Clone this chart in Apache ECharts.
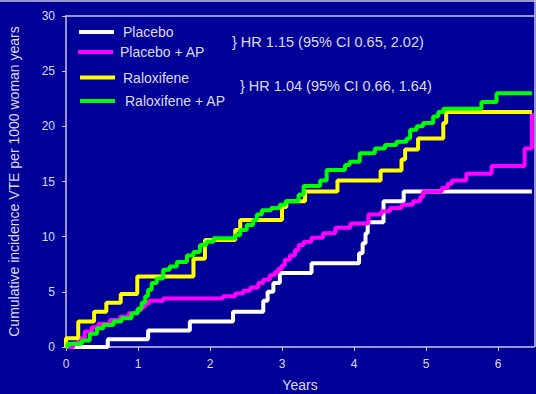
<!DOCTYPE html>
<html>
<head>
<meta charset="utf-8">
<script src="https://cdn.jsdelivr.net/npm/echarts@6/dist/echarts.min.js"></script>
<style>
html,body{margin:0;padding:0;background:#000099;}
#c{width:536px;height:394px;}
</style>
</head>
<body>
<div id="c"></div>
<script>
// ---- data (x = years, y = cumulative incidence per 1000 woman years) ----
const seriesNames = ['Placebo', 'Placebo + AP', 'Raloxifene', 'Raloxifene + AP'];
const xTickValues = [0, 1, 2, 3, 4, 5, 6];
const yTickValues = [0, 5, 10, 15, 20, 25, 30];
const hrTexts = ['HR 1.15 (95% CI 0.65, 2.02)', 'HR 1.04 (95% CI 0.66, 1.64)'];

const placebo = [[0,0],[0.58,0.7],[1.14,1.5],[1.72,2.3],[2.32,3.2],[2.74,4.2],[2.8,5.0],[2.88,5.8],[2.97,6.7],[3.41,7.6],[4.07,8.5],[4.12,9.4],[4.16,10.3],[4.19,11.3],[4.41,13.2],[4.69,14.1],[6.47,14.1]];

const placeboAP = [[0,0],[0.1,0.3],[0.17,0.8],[0.26,1.4],[0.36,1.8],[0.45,2.1],[0.61,2.45],[0.75,2.75],[0.87,3.05],[0.98,3.35],[1.05,3.65],[1.1,3.95],[1.15,4.2],[1.35,4.4],[2.18,4.6],[2.35,4.85],[2.46,5.1],[2.56,5.4],[2.67,5.8],[2.74,6.1],[2.83,6.5],[2.9,6.8],[2.95,7.1],[3.0,7.4],[3.04,7.9],[3.11,8.3],[3.18,8.8],[3.23,9.25],[3.3,9.55],[3.41,9.9],[3.57,10.3],[3.74,10.8],[3.95,11.2],[4.2,12.0],[4.38,12.3],[4.5,12.6],[4.66,12.9],[4.82,13.2],[4.92,13.6],[4.96,14.1],[5.22,14.4],[5.3,14.8],[5.36,15.1],[5.56,15.7],[5.91,16.4],[6.37,18.0],[6.47,21.2]];

const raloxifene = [[0,0],[0,0.8],[0.17,2.3],[0.39,3.2],[0.56,4.0],[0.76,4.8],[0.99,6.4],[1.77,8.0],[1.93,9.7],[2.35,10.6],[2.42,11.5],[3.0,12.7],[3.06,13.2],[3.32,14.1],[3.77,15.1],[4.37,16.0],[4.66,17.0],[4.71,17.9],[4.89,18.9],[5.24,20.3],[5.28,21.3],[6.47,21.3]];

const raloxifeneAP = [[0,0],[0.02,0.3],[0.22,0.6],[0.33,1.2],[0.43,1.7],[0.52,2.0],[0.66,2.3],[0.77,2.6],[0.91,3.05],[1.0,3.5],[1.05,4.0],[1.1,4.6],[1.14,5.2],[1.19,5.8],[1.26,6.2],[1.35,7.0],[1.44,7.3],[1.54,7.7],[1.68,8.3],[1.77,8.6],[1.86,9.25],[1.95,9.55],[2.05,9.85],[2.35,10.15],[2.42,10.6],[2.51,11.05],[2.6,11.5],[2.65,12.0],[2.72,12.4],[2.85,12.6],[2.97,12.9],[3.05,13.2],[3.23,13.8],[3.3,14.6],[3.53,15.1],[3.62,16.05],[3.875,16.5],[3.94,16.8],[4.08,17.55],[4.29,18.0],[4.43,18.3],[4.59,18.6],[4.73,18.9],[4.78,19.7],[4.87,20.0],[4.96,20.3],[5.1,20.9],[5.17,21.3],[5.24,21.6],[5.77,22.2],[5.98,23.0],[6.47,23.0]];

const seriesData = [placebo, placeboAP, raloxifene, raloxifeneAP];
const seriesColors = ['#ffffff', '#ff00ff', '#ffff00', '#00ff00'];

// ---- chart ----
const txt = '#dcdcf4';
const axisCol = '#c8c8e6';
const font = '"Liberation Sans", Arial, sans-serif';
const chart = echarts.init(document.getElementById('c'), null, {renderer: 'svg'});

const legendLeft = [79, 78, 80, 80];
const legendTop = [25, 45, 70.5, 94];
const legendPad = [4, 2, 3, 5];

chart.setOption({
  backgroundColor: '#000099',
  animation: false,
  textStyle: {fontFamily: font},
  grid: {left: 66, right: 2, top: 16, bottom: 47, containLabel: false, outerBoundsMode: 'none'},
  legend: seriesNames.map((n, i) => ({
    data: [n], left: legendLeft[i], top: legendTop[i], padding: 0,
    icon: 'rect', itemWidth: 35, itemHeight: 4,
    textStyle: {color: txt, fontSize: 14, fontFamily: font, padding: [0, 0, 0, legendPad[i]]},
    selectedMode: false
  })),
  xAxis: [{
    type: 'value', min: 0, max: 6.5,
    name: 'Years', nameLocation: 'middle', nameGap: 31,
    nameTextStyle: {color: txt, fontSize: 14, fontFamily: font},
    axisLine: {show: true, lineStyle: {color: axisCol, width: 1.5}},
    axisTick: {show: true, length: 4, lineStyle: {color: axisCol}, customValues: xTickValues},
    axisLabel: {color: txt, fontSize: 12, margin: 11, customValues: xTickValues},
    splitLine: {show: false}
  }, {
    type: 'value', min: 0, max: 6.5, position: 'top',
    axisLine: {show: true, lineStyle: {color: axisCol, width: 1.5}},
    axisTick: {show: false}, axisLabel: {show: false}, splitLine: {show: false}
  }],
  yAxis: {
    type: 'value', min: 0, max: 30, interval: 5,
    name: 'Cumulative incidence VTE per 1000 woman years',
    nameLocation: 'middle', nameGap: 45, nameRotate: 90,
    nameTextStyle: {color: txt, fontSize: 14, fontFamily: font},
    axisLine: {show: true, lineStyle: {color: axisCol, width: 1.5}},
    axisTick: {show: true, length: 4, lineStyle: {color: axisCol}},
    axisLabel: {color: txt, fontSize: 12, margin: 11, customValues: yTickValues},
    splitLine: {show: false}
  },
  graphic: [
    {type: 'text', left: 232, top: 33, style: {
      text: '{b|}} ' + hrTexts[0], fill: txt, font: '14.5px ' + font,
      rich: {b: {fontSize: 17, fill: txt, fontFamily: font}}
    }},
    {type: 'text', left: 240, top: 77, style: {
      text: '{b|}} ' + hrTexts[1], fill: txt, font: '14.5px ' + font,
      rich: {b: {fontSize: 17, fill: txt, fontFamily: font}}
    }},
    {type: 'line', shape: {x1: 0, y1: 1, x2: 536, y2: 1}, style: {stroke: axisCol, lineWidth: 1.5}},
    {type: 'line', shape: {x1: 535, y1: 0, x2: 535, y2: 347}, style: {stroke: axisCol, lineWidth: 1.5}}
  ],
  series: seriesData.map((d, i) => ({
    name: seriesNames[i], type: 'line', step: 'end', data: d,
    showSymbol: false, symbol: 'none',
    color: seriesColors[i],
    itemStyle: {color: seriesColors[i]},
    lineStyle: {color: seriesColors[i], width: 4},
    z: 2 + i
  }))
});
</script>
</body>
</html>
